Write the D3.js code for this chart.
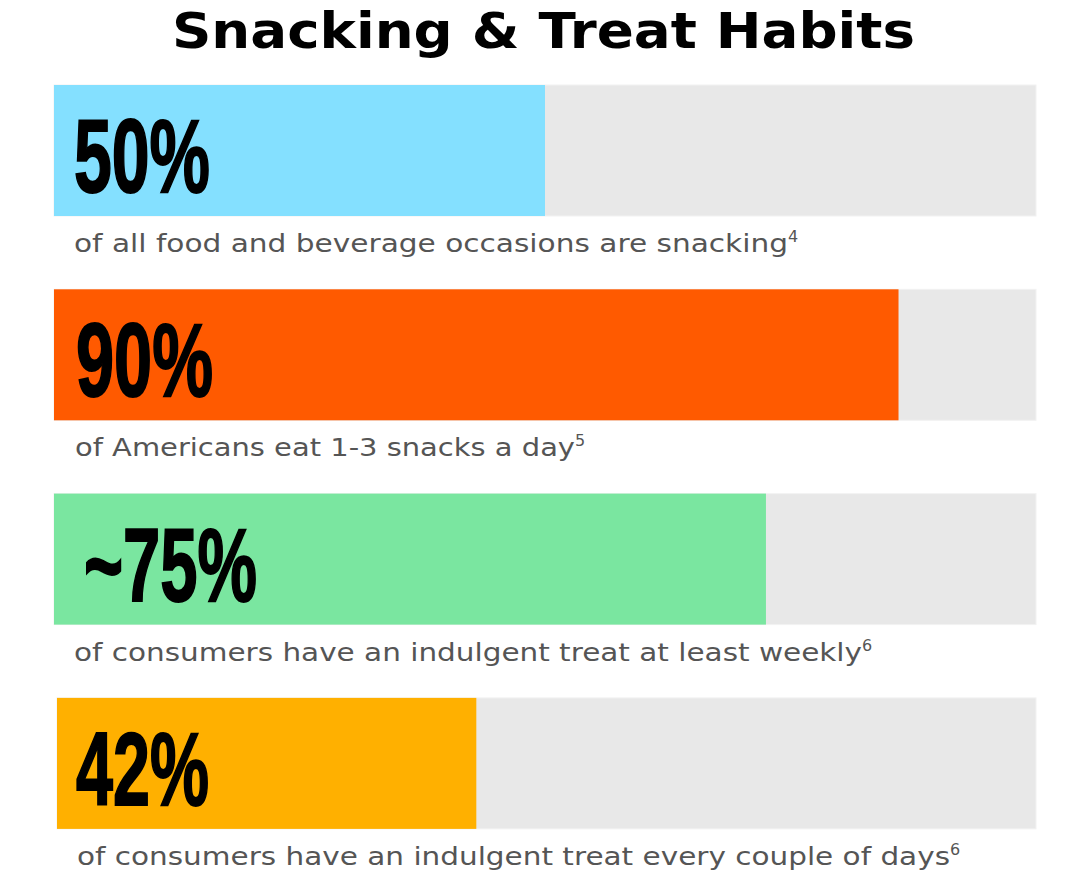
<!DOCTYPE html><html><head><meta charset="utf-8">
<script src="https://cdn.jsdelivr.net/npm/d3@7"></script>
<style>body{margin:0;background:#fff}</style></head><body>
<svg id="c" width="1088" height="871"></svg>
<script>
const labels=["50%","90%","~75%","42%"];
const values=[50,86,72.5,42.7];
const captions=["of all food and beverage occasions are snacking","of Americans eat 1-3 snacks a day","of consumers have an indulgent treat at least weekly","of consumers have an indulgent treat every couple of days"];
const notes=["4","5","6","6"];
const colors=["#84e0ff","#ff5a00","#7ae6a0","#ffb000"];
const starts=[54,54,54,57];
const labelW=[136,137,173,133];
const labelX=[74,76,84,76];
const capX=[74,75,74,77];
const capW=[714,500,788,873];
const svg=d3.select("#c");
svg.append("text").attr("x",172).attr("y",48)
 .attr("font-family","DejaVu Sans").attr("font-weight","bold").attr("font-size",50).attr("fill","#000")
 .attr("textLength",743).attr("lengthAdjust","spacingAndGlyphs")
 .text("Snacking & Treat Habits");
const y=d3.scaleBand().domain(d3.range(4)).range([85,85+4*204.3]);
const x=d3.scaleLinear().domain([0,100]).range([54,1036]);
const g=svg.selectAll("g.r").data(values).join("g");
g.append("rect").attr("x",(d,i)=>starts[i]).attr("y",(d,i)=>y(i)).attr("width",(d,i)=>1036-starts[i]).attr("height",131)
 .attr("fill","#e8e8e8").attr("stroke","#f2f2f2");
g.append("rect").attr("x",(d,i)=>starts[i]).attr("y",(d,i)=>y(i)).attr("width",(d,i)=>x(d)-54).attr("height",131).attr("fill",(d,i)=>colors[i]);
g.append("text").attr("x",(d,i)=>labelX[i]).attr("y",(d,i)=>y(i)+107)
 .attr("font-family","Liberation Sans Narrow, Liberation Sans").attr("font-weight","bold").attr("font-size",104)
 .attr("textLength",(d,i)=>labelW[i]).attr("lengthAdjust","spacingAndGlyphs")
 .attr("fill","#000").attr("stroke","#000").attr("stroke-width",2)
 .text((d,i)=>labels[i]);
const t=g.append("text").attr("x",(d,i)=>capX[i]).attr("y",(d,i)=>y(i)+167)
 .attr("font-family","DejaVu Sans").attr("font-size",24).attr("fill","#555");
t.append("tspan").attr("textLength",(d,i)=>capW[i]).attr("lengthAdjust","spacingAndGlyphs").text((d,i)=>captions[i]);
t.append("tspan").attr("dy",-10).attr("font-size",16).text((d,i)=>notes[i]);
</script></body></html>
